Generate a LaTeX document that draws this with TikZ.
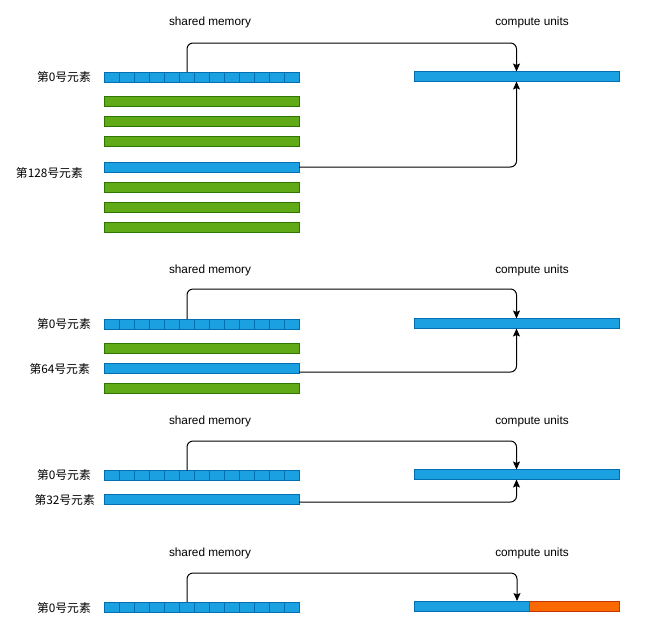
\documentclass[tikz,border=0pt]{standalone}
\usepackage{fontspec}
\setmainfont{Liberation Sans}
\newfontfamily\cjk{Noto Sans CJK SC}
\usetikzlibrary{arrows.meta}
\definecolor{cellblue}{HTML}{1BA1E2}
\definecolor{cellblueline}{HTML}{006EAF}
\definecolor{cellgreen}{HTML}{60A917}
\definecolor{cellgreenline}{HTML}{2D7600}
\definecolor{cellorange}{HTML}{FA6800}
\definecolor{cellorangeline}{HTML}{C73500}
\begin{document}
\begin{tikzpicture}[x=1pt, y=-1pt]
        \tikzstyle{bar} = [draw, line width=0.8pt, inner sep=0pt, outer sep=0pt, minimum height=10pt]
        \tikzstyle{membar} = [bar, minimum width=195pt]
        \tikzstyle{blue} = [membar, fill=cellblue, draw=cellblueline]
        \tikzstyle{green} = [membar, fill=cellgreen, draw=cellgreenline]
        \tikzstyle{cu} = [bar, minimum width=205pt, fill=cellblue, draw=cellblueline]
        \tikzstyle{cellline} = [draw=cellblueline, line width=0.8pt]
        \tikzstyle{lbl} = [inner sep=0pt, anchor=east, font=\cjk\fontsize{11.8}{14}\selectfont]
        \tikzstyle{title} = [inner sep=0pt, font=\fontsize{11.8}{14}\selectfont]
        \tikzstyle{conn} = [draw, black, line width=1pt, rounded corners=6pt, -{Stealth[length=8pt, width=7pt, inset=1.5pt]}]
        \useasboundingbox[fill=white] (0,0) rectangle (660,630);

        % case 1: element 0 and element 128
        \node[title] (smA) at (210, 22) {shared memory};
        \node[title] (cuTitleA) at (532, 22) {compute units};
        \node[blue] (segA) at (201.5, 77) {};
        \node[green] (gA1) at (201.5, 101) {};
        \node[green] (gA2) at (201.5, 121) {};
        \node[green] (gA3) at (201.5, 141) {};
        \node[blue] (eA) at (201.5, 167) {};
        \node[green] (gA4) at (201.5, 187) {};
        \node[green] (gA5) at (201.5, 207) {};
        \node[green] (gA6) at (201.5, 227) {};
        \node[cu] (cuA) at (516.5, 76.5) {};
        \node[lbl] (lA0) at (91, 77) {第0号元素};
        \node[lbl] (lA1) at (83, 173) {第128号元素};
        \coordinate (topA) at (516.5, 43);

        % case 2: element 0 and element 64
        \node[title] (smB) at (210, 270) {shared memory};
        \node[title] (cuTitleB) at (532, 270) {compute units};
        \node[blue] (segB) at (201.5, 324) {};
        \node[green] (gB1) at (201.5, 348) {};
        \node[blue] (eB) at (201.5, 368) {};
        \node[green] (gB2) at (201.5, 388) {};
        \node[cu] (cuB) at (516.5, 323.5) {};
        \node[lbl] (lB0) at (91, 324) {第0号元素};
        \node[lbl] (lB1) at (90, 369) {第64号元素};
        \coordinate (topB) at (516.5, 289);

        % case 3: element 0 and element 32
        \node[title] (smC) at (210, 421) {shared memory};
        \node[title] (cuTitleC) at (532, 421) {compute units};
        \node[blue] (segC) at (201.5, 475.5) {};
        \node[blue] (eC) at (201.5, 499) {};
        \node[cu] (cuC) at (516.5, 474.5) {};
        \node[lbl] (lC0) at (91, 475) {第0号元素};
        \node[lbl] (lC1) at (95, 500) {第32号元素};
        \coordinate (topC) at (516.5, 441);

        % case 4: element 0 only
        \node[title] (smD) at (210, 553) {shared memory};
        \node[title] (cuTitleD) at (532, 553) {compute units};
        \node[blue] (segD) at (201.5, 607) {};
        \node[bar, minimum width=115pt, fill=cellblue, draw=cellblueline] (cuD) at (471.5, 606) {};
        \node[bar, minimum width=90pt, fill=cellorange, draw=cellorangeline] (cuDo) at (574, 606) {};
        \node[lbl] (lD0) at (91, 608) {第0号元素};
        \coordinate (topD) at (517, 573);

        % cells of the first row
        \foreach \s in {segA, segB, segC, segD}
            \foreach \i in {1,...,12}
                \path[cellline] ([xshift=\i*15pt]\s.north west) -- ([xshift=\i*15pt]\s.south west);

        \path[conn] ([xshift=-14.5pt]segA.north) |- (topA) -- (cuA.north);
        \path[conn] (eA.east) -| (cuA.south);
        \path[conn] ([xshift=-14.5pt]segB.north) |- (topB) -- (cuB.north);
        \path[conn] ([yshift=-4pt]eB.east) -| (cuB.south);
        \path[conn] ([xshift=-14.5pt]segC.north) |- (topC) -- (cuC.north);
        \path[conn] ([yshift=-3pt]eC.east) -| (cuC.south);
        \path[conn] ([xshift=-14.5pt]segD.north) |- (topD) -- (topD |- cuD.north);
    \end{tikzpicture}
\end{document}
